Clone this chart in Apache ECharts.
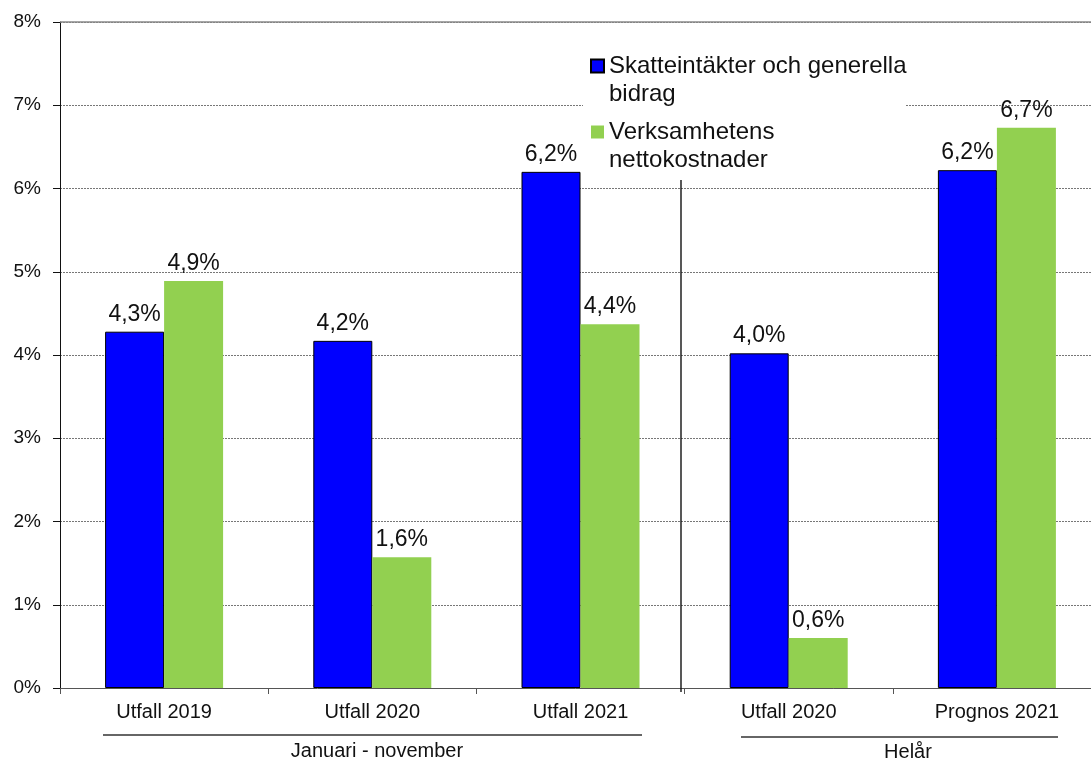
<!DOCTYPE html>
<html>
<head>
<meta charset="utf-8">
<script src="https://cdn.jsdelivr.net/npm/echarts@6/dist/echarts.min.js"></script>
<style>
  html, body { margin: 0; padding: 0; background: #fff; }
  #chart { width: 1091px; height: 760px; }
</style>
</head>
<body>
<div id="chart"></div>
<script>
const categories = ['Utfall 2019', 'Utfall 2020', 'Utfall 2021', 'Utfall 2020', 'Prognos 2021']
const skatter = [4.28, 4.17, 6.2, 4.02, 6.22]
const kostnader = [4.89, 1.57, 4.37, 0.6, 6.73]
const yTicks = [0, 1, 2, 3, 4, 5, 6, 7, 8]
const seriesNames = ['Skatteintäkter och generella\nbidrag', 'Verksamhetens\nnettokostnader']
const groupLabels = ['Januari - november', 'Helår']

const font = 'Liberation Sans, Arial, sans-serif'
const chart = echarts.init(document.getElementById('chart'))

const pct = (v) => v.toFixed(1).replace('.', ',') + '%'

// square sitting at the top of a taller box, so it lines up with the first text line
const legendIcon = 'path://M0,0L13,0L13,13L0,13Z M0,41L0,41'

const labelStyle = {
  show: true,
  position: 'top',
  distance: 6,
  color: '#111',
  fontSize: 23,
  fontFamily: font,
  formatter: (p) => pct(p.value)
}

const option = {
  animation: false,
  backgroundColor: '#fff',
  textStyle: { fontFamily: font },

  grid: {
    left: 60,
    top: 22,
    width: 1041,
    height: 666,
    containLabel: false,
    outerBoundsMode: 'none'
  },

  legend: {
    orient: 'vertical',
    left: 585,
    top: 47,
    itemWidth: 13,
    itemHeight: 41,
    itemGap: 10,
    icon: legendIcon,
    textStyle: {
      color: '#111',
      fontSize: 24,
      fontFamily: font,
      lineHeight: 28
    },
    data: seriesNames
  },

  xAxis: {
    type: 'category',
    data: categories,
    axisLine: { lineStyle: { color: '#555', width: 1 } },
    axisTick: { show: true, length: 6, lineStyle: { color: '#555' } },
    axisLabel: { color: '#111', fontSize: 20, fontFamily: font, margin: 14 }
  },

  yAxis: {
    type: 'value',
    min: yTicks[0],
    max: yTicks[yTicks.length - 1],
    interval: 1,
    axisLine: { show: true, lineStyle: { color: '#111', width: 1 } },
    axisTick: { show: true, length: 7, lineStyle: { color: '#111' } },
    axisLabel: {
      color: '#111',
      fontSize: 19,
      fontFamily: font,
      margin: 19,
      formatter: (v) => v + '%'
    },
    splitLine: {
      lineStyle: { color: '#777', type: [2, 1], width: 1 }
    }
  },

  graphic: [
    {
      type: 'rect',
      z: 3,
      shape: { x: 583, y: 45, width: 323, height: 133 },
      style: { fill: '#fff' }
    },
    {
      type: 'line',
      z: 5,
      shape: { x1: 681, y1: 180, x2: 681, y2: 692 },
      style: { stroke: '#111', lineWidth: 1.4 }
    },
    {
      type: 'line',
      shape: { x1: 103, y1: 735, x2: 642, y2: 735 },
      style: { stroke: '#333', lineWidth: 1.6 }
    },
    {
      type: 'line',
      shape: { x1: 741, y1: 737, x2: 1058, y2: 737 },
      style: { stroke: '#333', lineWidth: 1.6 }
    },
    {
      type: 'text',
      x: 377,
      y: 751,
      style: {
        text: groupLabels[0],
        fill: '#111',
        font: '20px ' + font,
        textAlign: 'center',
        textVerticalAlign: 'middle'
      }
    },
    {
      type: 'text',
      x: 908,
      y: 752,
      style: {
        text: groupLabels[1],
        fill: '#111',
        font: '20px ' + font,
        textAlign: 'center',
        textVerticalAlign: 'middle'
      }
    }
  ],

  series: [
    {
      name: seriesNames[0],
      type: 'bar',
      data: skatter,
      barWidth: 59,
      barGap: '0%',
      itemStyle: { color: '#0000ff', borderColor: '#000', borderWidth: 1 },
      label: labelStyle,
      markLine: {
        silent: true,
        symbol: 'none',
        label: { show: false },
        lineStyle: { color: '#888', type: 'solid', width: 1.5 },
        data: [{ yAxis: yTicks[yTicks.length - 1] }]
      }
    },
    {
      name: seriesNames[1],
      type: 'bar',
      data: kostnader,
      barWidth: 59,
      itemStyle: { color: '#92d050' },
      label: labelStyle
    }
  ]
}

chart.setOption(option)
</script>
</body>
</html>
